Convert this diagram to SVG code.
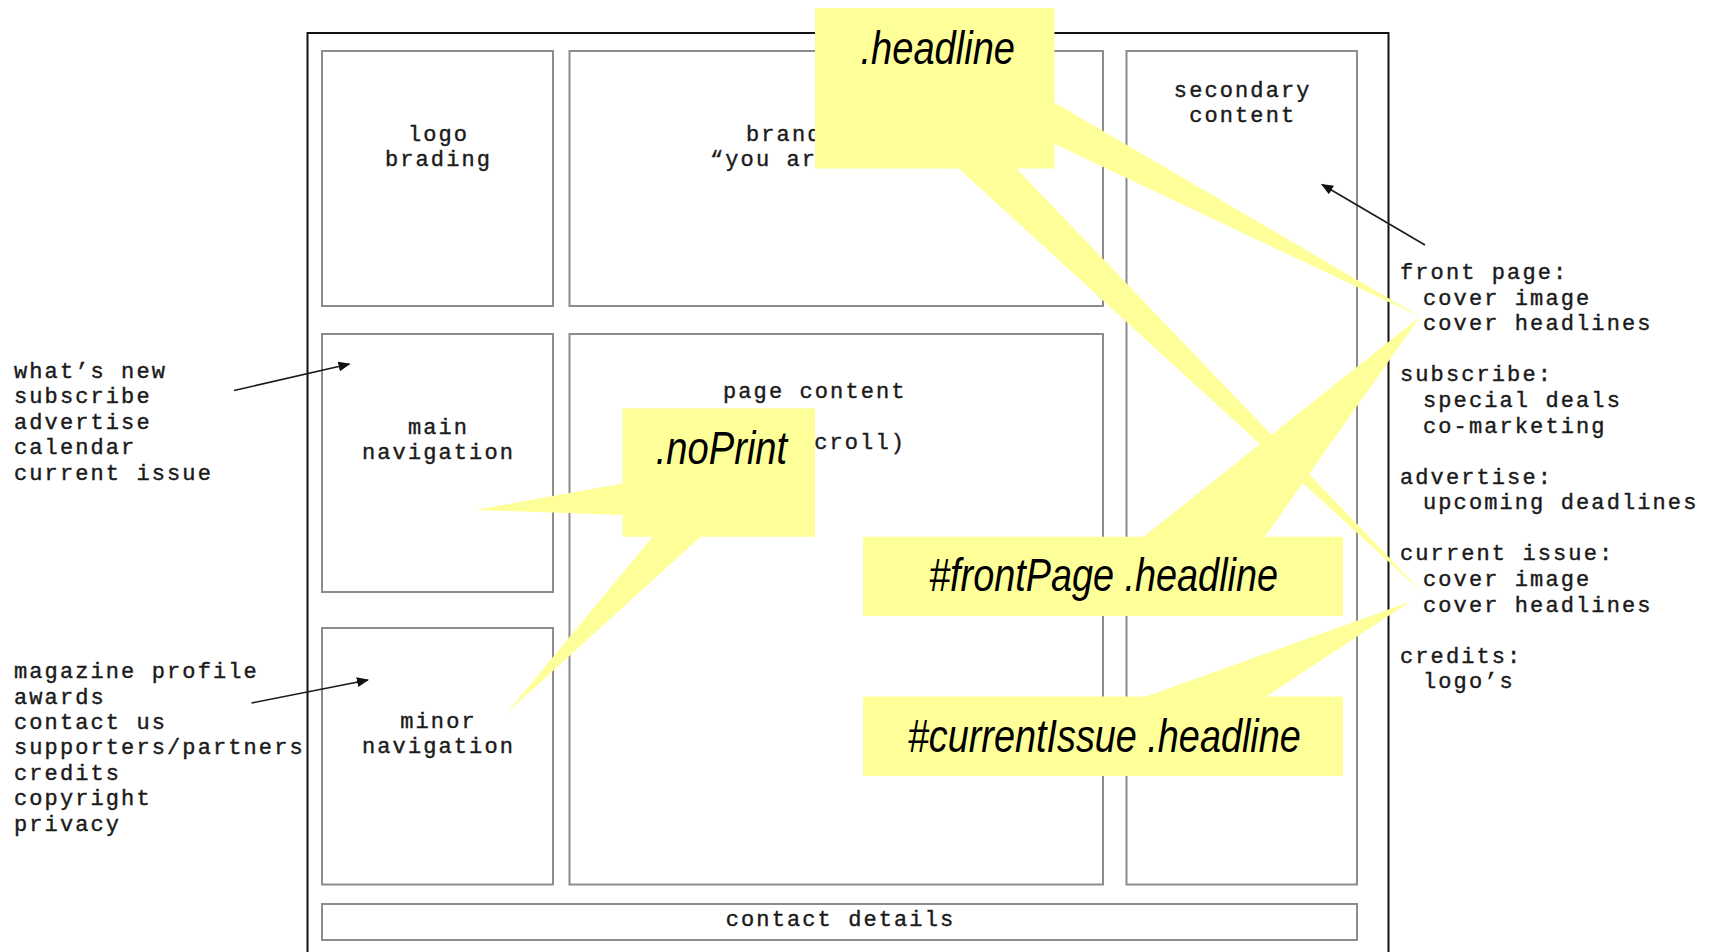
<svg xmlns="http://www.w3.org/2000/svg" width="1717" height="952" viewBox="0 0 1717 952">
  <style>
    .mono { font-family: "Liberation Mono", "DejaVu Sans Mono", monospace; font-size: 22px; letter-spacing: 2.1px; fill: #1a1a1a; stroke: #1a1a1a; stroke-width: 0.4px; }
    .mid { text-anchor: middle; }
    .box { fill: #ffffff; stroke: #8c8c8c; stroke-width: 2; }
    .frame { fill: none; stroke: #111111; stroke-width: 2; }
    .note { fill: #ffff99; stroke: none; }
    .tag { font-family: "Liberation Sans", Arial, sans-serif; font-style: italic; font-size: 46px; fill: #000000; }
    .arrow { stroke: #1a1a1a; stroke-width: 1.6; fill: none; marker-end: url(#head); }
  </style>
  <defs>
    <marker id="head" viewBox="0 0 12 10" refX="11" refY="5" markerWidth="12" markerHeight="10" markerUnits="userSpaceOnUse" orient="auto">
      <path d="M0,0 L12,5 L0,10 Z" fill="#111111"/>
    </marker>
  </defs>

  <rect width="1717" height="952" fill="#ffffff"/>

  <!-- page frame (runs past the bottom edge) -->
  <path class="frame" d="M307.5,970 V33 H1388.5 V970"/>

  <!-- layout regions -->
  <g id="logo">
    <rect class="box" x="322" y="51" width="231" height="255"/>
    <text class="mono mid" x="438.5" y="140.5">logo</text>
    <text class="mono mid" x="438.5" y="166">brading</text>
  </g>
  <g id="brand">
    <rect class="box" x="569.5" y="51" width="533.5" height="255"/>
    <text class="mono" x="746" y="140.5">branding</text>
    <text class="mono" x="710" y="166">“you are here”</text>
  </g>
  <g id="secondary">
    <rect class="box" x="1126.5" y="51" width="230.5" height="833.5"/>
    <text class="mono mid" x="1242.7" y="96.5">secondary</text>
    <text class="mono mid" x="1242.7" y="122">content</text>
  </g>
  <g id="main-navigation">
    <rect class="box" x="322" y="334" width="231" height="258"/>
    <text class="mono mid" x="438.5" y="433.5">main</text>
    <text class="mono mid" x="438.5" y="459">navigation</text>
  </g>
  <g id="page-content">
    <rect class="box" x="569.5" y="334" width="533.5" height="550.5"/>
    <text class="mono" x="723" y="397.5">page content</text>
    <text class="mono" text-anchor="end" x="906" y="448.5">scroll)</text>
  </g>
  <g id="minor-navigation">
    <rect class="box" x="322" y="628" width="231" height="256.5"/>
    <text class="mono mid" x="438.5" y="727.5">minor</text>
    <text class="mono mid" x="438.5" y="753">navigation</text>
  </g>
  <g id="contact-details">
    <rect class="box" x="322" y="904" width="1035" height="36"/>
    <text class="mono mid" x="840.5" y="925.5">contact details</text>
  </g>

  <!-- side notes -->
  <g id="main-nav-list">
    <text class="mono" x="14" y="378">what’s new</text>
    <text class="mono" x="14" y="403.4">subscribe</text>
    <text class="mono" x="14" y="428.8">advertise</text>
    <text class="mono" x="14" y="454.2">calendar</text>
    <text class="mono" x="14" y="479.6">current issue</text>
  </g>
  <g id="minor-nav-list">
    <text class="mono" x="14" y="678.4">magazine profile</text>
    <text class="mono" x="14" y="703.7">awards</text>
    <text class="mono" x="14" y="729">contact us</text>
    <text class="mono" x="14" y="754.4">supporters/partners</text>
    <text class="mono" x="14" y="779.8">credits</text>
    <text class="mono" x="14" y="805.1">copyright</text>
    <text class="mono" x="14" y="830.5">privacy</text>
  </g>
  <g id="secondary-list">
    <text class="mono" x="1400" y="279">front page:</text>
    <text class="mono" x="1423" y="304.6">cover image</text>
    <text class="mono" x="1423" y="330.2">cover headlines</text>
    <text class="mono" x="1400" y="381.3">subscribe:</text>
    <text class="mono" x="1423" y="406.9">special deals</text>
    <text class="mono" x="1423" y="432.5">co-marketing</text>
    <text class="mono" x="1400" y="483.6">advertise:</text>
    <text class="mono" x="1423" y="509.2">upcoming deadlines</text>
    <text class="mono" x="1400" y="560.4">current issue:</text>
    <text class="mono" x="1423" y="586">cover image</text>
    <text class="mono" x="1423" y="611.6">cover headlines</text>
    <text class="mono" x="1400" y="662.7">credits:</text>
    <text class="mono" x="1423" y="688.3">logo’s</text>
  </g>

  <!-- pointer arrows -->
  <g id="connectors">
    <line class="arrow" x1="234" y1="390.5" x2="349.5" y2="364"/>
    <line class="arrow" x1="251.5" y1="703" x2="368" y2="680"/>
    <line class="arrow" x1="1425" y1="245" x2="1322" y2="184.5"/>
  </g>

  <!-- CSS selector callouts -->
  <g id="callout-headline">
    <rect class="note" x="815" y="8" width="239.5" height="160.5"/>
    <polygon class="note" points="1053,101.7 1053,143.3 1420,316.7"/>
    <polygon class="note" points="957,167 1015,167 1424,594"/>
    <text class="tag" x="860.5" y="64" textLength="154.5" lengthAdjust="spacingAndGlyphs">.headline</text>
  </g>
  <g id="callout-noprint">
    <rect class="note" x="622.5" y="408.3" width="192.5" height="128.5"/>
    <polygon class="note" points="624,483.3 624,515 474.7,510"/>
    <polygon class="note" points="653.6,535.5 702,535.5 506.5,713"/>
    <text class="tag" x="655.7" y="464" textLength="131.5" lengthAdjust="spacingAndGlyphs">.noPrint</text>
  </g>
  <g id="callout-frontpage">
    <rect class="note" x="863" y="536.7" width="480" height="79.3"/>
    <polygon class="note" points="1142,538 1264,538 1420,316.7"/>
    <text class="tag" x="929" y="591" textLength="349" lengthAdjust="spacingAndGlyphs">#frontPage .headline</text>
  </g>
  <g id="callout-currentissue">
    <rect class="note" x="863" y="696.5" width="480" height="79.5"/>
    <polygon class="note" points="1142,698 1264,698 1410,601.7"/>
    <text class="tag" x="907.8" y="752" textLength="393" lengthAdjust="spacingAndGlyphs">#currentIssue .headline</text>
  </g>
</svg>
